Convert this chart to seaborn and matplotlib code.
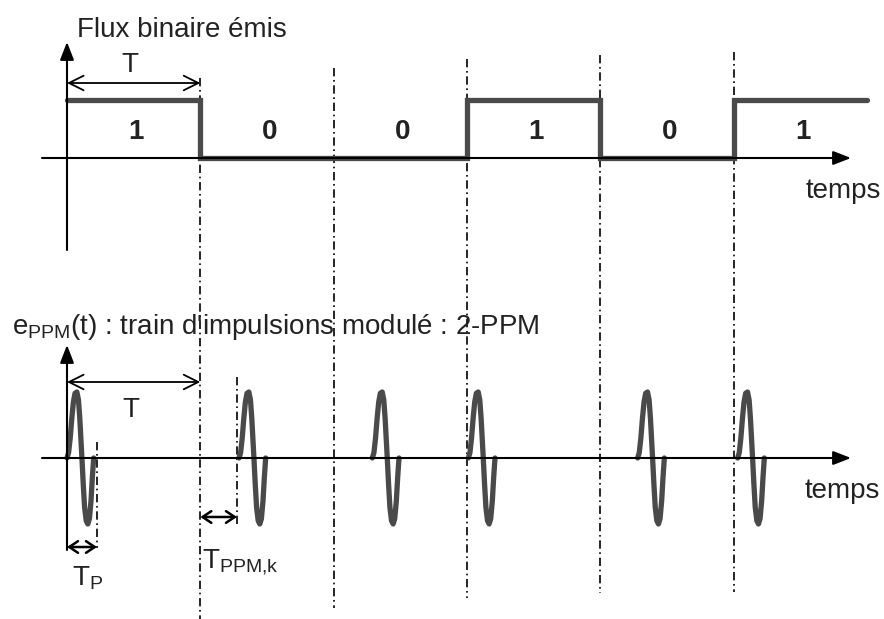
import numpy as np
import pandas as pd
import matplotlib
matplotlib.use("Agg")
import matplotlib.pyplot as plt
import seaborn as sns

# données : flux binaire et train d'impulsions 2-PPM
bits = [1, 0, 0, 1, 0, 1]
bit_labels = ["1", "0", "0", "1", "0", "1"]
slot_edges = [0, 1, 2, 3, 4, 5, 6]            # en unités de T
levels = bits + [bits[-1]]
pulse_starts = [0.0, 1.29, 2.29, 3.01, 4.28, 5.03]   # début de chaque impulsion (en T)

# forme d'une impulsion, u = fraction de Tp
pulse_u = [0, .06, .12, .18, .24, .30, .37, .43, .48, .52, .56, .61, .66, .72, .78, .84, .90, .95, 1.0]
pulse_a = [0, .08, .30, .60, .85, .98, 1.0, .88, .60, .30, 0, -.40, -.75, -.95, -1.0, -.92, -.65, -.30, 0]
pulse_width = 0.2

# séparateurs pointillés (t, haut px, bas px)
sep_t = [1, 2, 3, 4, 5]
sep_top = [78, 68, 59, 55, 52]
sep_bot = [619, 608, 598, 593, 592]

# mise en page (pixels)
W, H = 884, 619
X0, TPX = 67, 133.33
TOP_BASE, TOP_AMP = 158, 58
BOT_BASE, BOT_AMP = 458, 66
GREY = "#4a4a4a"
INK = "#222222"
FS = 20

sns.set_theme(style="white")
plt.rcParams["font.family"] = ["Liberation Sans", "DejaVu Sans"]
plt.rcParams["mathtext.fontset"] = "custom"
plt.rcParams["mathtext.rm"] = "Liberation Sans"
plt.rcParams["mathtext.it"] = "Liberation Sans"


def tx(px):
    return (px - X0) / TPX


def ty(p):
    return (TOP_BASE - p) / TOP_AMP


def by(p):
    return (BOT_BASE - p) / BOT_AMP


fig = plt.figure(figsize=(W / 100, H / 100), dpi=100)
ax_top = fig.add_axes([0, 0, 1, 1])
ax_bot = fig.add_axes([0, 0, 1, 1])
for ax in (ax_top, ax_bot):
    ax.set_xlim(tx(0), tx(W))
    ax.set_axis_off()
    ax.patch.set_alpha(0)
ax_top.set_ylim(ty(H), ty(0))
ax_bot.set_ylim(by(H), by(0))

# --- signal binaire ---
sq = pd.DataFrame({"t": slot_edges, "niveau": levels})
sns.lineplot(data=sq, x="t", y="niveau", ax=ax_top, drawstyle="steps-post",
             color=GREY, lw=3.8, solid_joinstyle="miter", zorder=3)
for i, lab in enumerate(bit_labels):
    ax_top.text(slot_edges[i] + 0.52, ty(132), lab, ha="center", va="center",
                fontsize=FS, fontweight="bold", color=INK)

# --- impulsions ---
rows = []
for k, t0 in enumerate(pulse_starts):
    for u, a in zip(pulse_u, pulse_a):
        rows.append({"t": t0 + u * pulse_width, "amp": a, "impulsion": k})
pulses = pd.DataFrame(rows)
sns.lineplot(data=pulses, x="t", y="amp", units="impulsion", estimator=None,
             sort=False, ax=ax_bot, color=GREY, lw=3.8, zorder=3,
             solid_joinstyle="round", solid_capstyle="round")

# --- axes dessinés ---
axis_arrow = dict(arrowstyle="-|>,head_length=0.9,head_width=0.35", color="black",
                  lw=1.5, mutation_scale=12, shrinkA=0, shrinkB=0)
ax_top.annotate("", xy=(0, ty(42)), xytext=(0, ty(250)), arrowprops=axis_arrow)
ax_top.annotate("", xy=(tx(851), 0), xytext=(tx(42), 0), arrowprops=axis_arrow)
ax_bot.annotate("", xy=(0, by(345)), xytext=(0, by(550)), arrowprops=axis_arrow)
ax_bot.annotate("", xy=(tx(851), 0), xytext=(tx(42), 0), arrowprops=axis_arrow)

# séparateurs
dashdot = (0, (5, 2.2, 1, 2.2))
for t, p1, p2 in zip(sep_t, sep_top, sep_bot):
    ax_top.plot([t, t], [ty(p1), ty(p2)], color="black", lw=1.2, ls=dashdot, zorder=2)

# flèches T
t_arrow = dict(arrowstyle="<->,head_length=0.7,head_width=0.35", color="black",
               lw=1.3, mutation_scale=15, shrinkA=0, shrinkB=0)
ax_top.annotate("", xy=(1, ty(83)), xytext=(0, ty(83)), arrowprops=t_arrow)
ax_bot.annotate("", xy=(1, by(382)), xytext=(0, by(382)), arrowprops=t_arrow)
ax_top.text(tx(130), ty(72), "T", ha="center", va="baseline", fontsize=FS, color=INK)
ax_bot.text(tx(131), by(417), "T", ha="center", va="baseline", fontsize=FS, color=INK)

# Tp et T_PPM,k
small_arrow = dict(arrowstyle="<->,head_length=0.45,head_width=0.3", color="black",
                   lw=1.8, mutation_scale=14, shrinkA=0, shrinkB=0)
ax_bot.plot([tx(97), tx(97)], [by(442), by(548)], color="black", lw=1.2, ls=dashdot)
ax_bot.annotate("", xy=(tx(97), by(547)), xytext=(0, by(547)), arrowprops=small_arrow)
ax_bot.plot([tx(237), tx(237)], [by(377), by(527)], color="black", lw=1.2, ls=dashdot)
ax_bot.annotate("", xy=(tx(237), by(517)), xytext=(1, by(517)), arrowprops=small_arrow)
ax_bot.text(tx(72), by(585), r"T$_{\mathrm{P}}$", ha="left", va="baseline",
            fontsize=FS, color=INK)
ax_bot.text(tx(202), by(568), r"T$_{\mathrm{PPM{,}k}}$", ha="left", va="baseline",
            fontsize=FS, color=INK)

# titres et "temps"
ax_top.text(tx(77), ty(37), "Flux binaire émis", ha="left", va="baseline",
            fontsize=FS, color=INK)
ax_bot.text(tx(12), by(334), r"e$_{\mathrm{PPM}}$(t) : train d'impulsions modulé : 2-PPM",
            ha="left", va="baseline", fontsize=FS, color=INK)
ax_top.text(tx(806), ty(198), "temps", ha="left", va="baseline", fontsize=FS, color=INK)
ax_bot.text(tx(805), by(498), "temps", ha="left", va="baseline", fontsize=FS, color=INK)

fig.savefig("out.png", dpi=100)
